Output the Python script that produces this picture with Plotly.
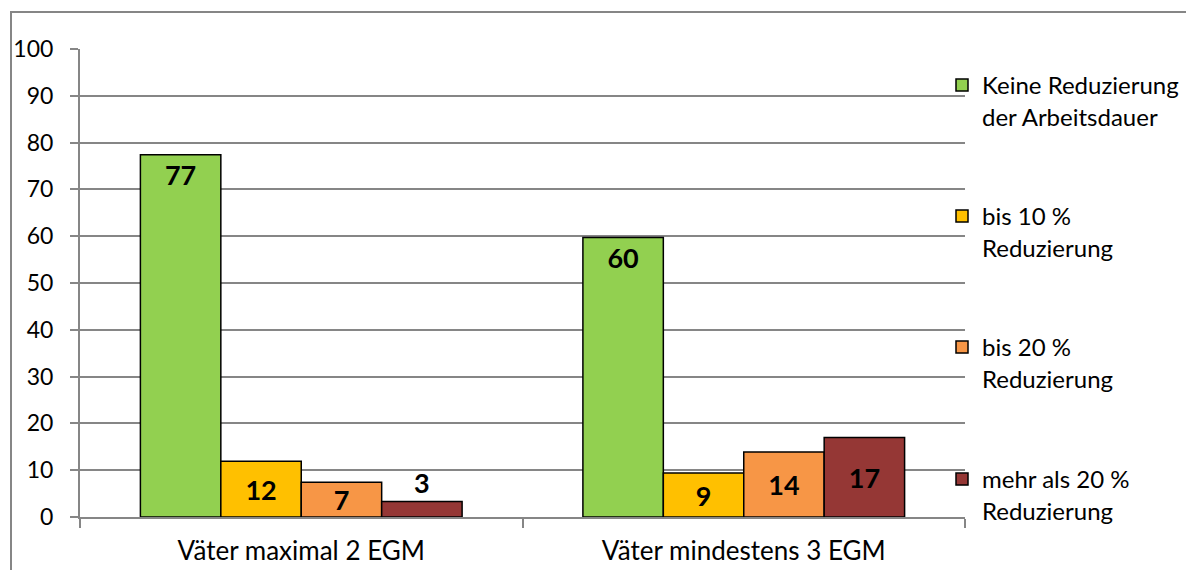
import plotly.graph_objects as go

categories = ["Väter maximal 2 EGM", "Väter mindestens 3 EGM"]
series_names = [
    "Keine Reduzierung<br>der Arbeitsdauer",
    "bis 10 %<br>Reduzierung",
    "bis 20 %<br>Reduzierung",
    "mehr als 20 %<br>Reduzierung",
]
keine = [77.4, 59.7]
bis10 = [11.9, 9.4]
bis20 = [7.4, 13.9]
mehr20 = [3.3, 17.0]
y_ticks = [0, 10, 20, 30, 40, 50, 60, 70, 80, 90, 100]

colors = ["#92D050", "#FFC000", "#F79646", "#953735"]
values = [keine, bis10, bis20, mehr20]
positions = [["inside", "inside"], ["inside", "inside"], ["inside", "inside"], ["outside", "inside"]]
anchors = ["end", "middle", "middle", "middle"]
legend_ids = ["legend", "legend2", "legend3", "legend4"]

FONT = "Lato"
OFF = 8  # page body margin offset
L, T = 80 - OFF, 49 - OFF
W, H = 885.0, 468.0
PLOT_BOTTOM = 517


def px2x(page_x):
    return (page_x - OFF - L) / W


def py2y(page_y):
    return (PLOT_BOTTOM - page_y) / H


fig = go.Figure()
for name, vals, col, pos, anc, lg in zip(series_names, values, colors, positions, anchors, legend_ids):
    fig.add_trace(go.Bar(
        x=categories, y=vals, name=name,
        marker=dict(color=col, line=dict(color="#000000", width=1.5)),
        texttemplate="%{y:.0f}", textposition=pos, insidetextanchor=anc,
        textangle=0, constraintext="none",
        textfont=dict(family=FONT, size=27, color="#000000", weight="bold"),
        cliponaxis=False, legend=lg,
    ))

leg_common = dict(font=dict(family=FONT, size=24, color="#000000"),
                  bgcolor="rgba(0,0,0,0)", valign="top", itemwidth=30,
                  xanchor="left", yanchor="top", x=px2x(942))
fig.update_layout(
    legend=dict(**leg_common, y=py2y(63)),
    legend2=dict(**leg_common, y=py2y(194)),
    legend3=dict(**leg_common, y=py2y(325)),
    legend4=dict(**leg_common, y=py2y(457)),
)

fig.update_layout(
    width=1194, height=570,
    margin=dict(l=L, r=1194 - L - int(W), t=T, b=570 - T - int(H), autoexpand=False),
    paper_bgcolor="white", plot_bgcolor="white",
    barmode="group", bargap=0.273, bargroupgap=0,
    font=dict(family=FONT, size=24, color="#000000"),
    showlegend=True,
    xaxis=dict(
        type="category", tickson="boundaries", ticks="outside", ticklen=9,
        tickwidth=2, tickcolor="#868686", showline=True, linecolor="#868686",
        linewidth=2, showgrid=False, tickfont=dict(family=FONT, size=26),
        ticklabelstandoff=10, automargin=False,
    ),
    yaxis=dict(
        range=[0, 100], tickvals=y_ticks, ticks="outside", ticklen=8,
        tickwidth=2, tickcolor="#868686", showline=True, linecolor="#868686",
        linewidth=2, showgrid=True, gridcolor="#868686", gridwidth=2,
        zeroline=False, tickfont=dict(family=FONT, size=23),
        ticklabelstandoff=12, automargin=False,
    ),
    shapes=[dict(
        type="path", xref="paper", yref="paper",
        path=f"M {px2x(11)},{py2y(600)} L {px2x(11)},{py2y(12)} L {px2x(1193)},{py2y(12)}",
        line=dict(color="#868686", width=2),
    )],
)

fig.write_html("out.html")
